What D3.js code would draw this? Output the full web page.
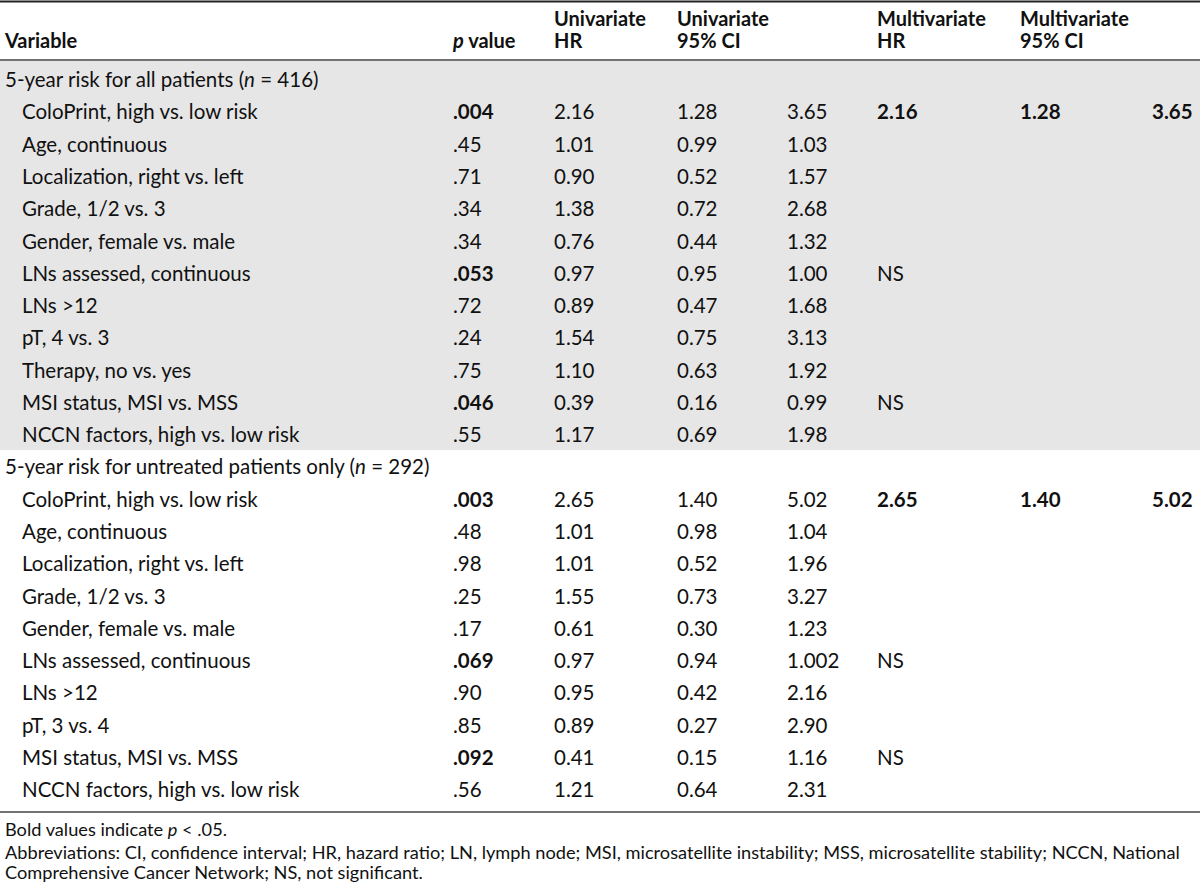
<!DOCTYPE html>
<html><head><meta charset="utf-8">
<script src="https://cdn.jsdelivr.net/npm/d3@7"></script>
<style>
body{margin:0;background:#fff;}
svg{display:block;}
text{font-family:Lato,"Open Sans",sans-serif;fill:#111;}
</style></head><body>
<svg id="c" width="1200" height="882"></svg>
<script>
const headers = [
  ["Variable"],
  ["p value"],
  ["Univariate","HR"],
  ["Univariate","95% CI"],
  ["Multivariate","HR"],
  ["Multivariate","95% CI"]
];
const groups = ["5-year risk for all patients (n = 416)", "5-year risk for untreated patients only (n = 292)"];
const groupN = ["416","292"];
const variables1 = ["ColoPrint, high vs. low risk","Age, continuous","Localization, right vs. left","Grade, 1/2 vs. 3","Gender, female vs. male","LNs assessed, continuous","LNs \u003E12","pT, 4 vs. 3","Therapy, no vs. yes","MSI status, MSI vs. MSS","NCCN factors, high vs. low risk"];
const pValues1 = [".004",".45",".71",".34",".34",".053",".72",".24",".75",".046",".55"];
const pBold1 = [true,false,false,false,false,true,false,false,false,true,false];
const uniHR1 = ["2.16","1.01","0.90","1.38","0.76","0.97","0.89","1.54","1.10","0.39","1.17"];
const uniLo1 = ["1.28","0.99","0.52","0.72","0.44","0.95","0.47","0.75","0.63","0.16","0.69"];
const uniHi1 = ["3.65","1.03","1.57","2.68","1.32","1.00","1.68","3.13","1.92","0.99","1.98"];
const multiHR1 = ["2.16","","","","","NS","","","","NS",""];
const multiLo1 = ["1.28","","","","","","","","","",""];
const multiHi1 = ["3.65","","","","","","","","","",""];

const variables2 = ["ColoPrint, high vs. low risk","Age, continuous","Localization, right vs. left","Grade, 1/2 vs. 3","Gender, female vs. male","LNs assessed, continuous","LNs \u003E12","pT, 3 vs. 4","MSI status, MSI vs. MSS","NCCN factors, high vs. low risk"];
const pValues2 = [".003",".48",".98",".25",".17",".069",".90",".85",".092",".56"];
const pBold2 = [true,false,false,false,false,true,false,false,true,false];
const uniHR2 = ["2.65","1.01","1.01","1.55","0.61","0.97","0.95","0.89","0.41","1.21"];
const uniLo2 = ["1.40","0.98","0.52","0.73","0.30","0.94","0.42","0.27","0.15","0.64"];
const uniHi2 = ["5.02","1.04","1.96","3.27","1.23","1.002","2.16","2.90","1.16","2.31"];
const multiHR2 = ["2.65","","","","","NS","","","NS",""];
const multiLo2 = ["1.40","","","","","","","","",""];
const multiHi2 = ["5.02","","","","","","","","",""];

const footnotes = ["Bold values indicate p < .05.",
 "Abbreviations: CI, confidence interval; HR, hazard ratio; LN, lymph node; MSI, microsatellite instability; MSS, microsatellite stability; NCCN, National",
 "Comprehensive Cancer Network; NS, not significant."];

// build rows
const rows = [];
function addGroup(gi, vars, p, pb, uh, ul, uhi, mh, ml, mhi){
  rows.push({type:"group", gi});
  vars.forEach((v,i)=>rows.push({type:"row", gi, v, p:p[i], pb:pb[i], uh:uh[i], ul:ul[i], uhi:uhi[i], mh:mh[i], ml:ml[i], mhi:mhi[i]}));
}
addGroup(0, variables1, pValues1, pBold1, uniHR1, uniLo1, uniHi1, multiHR1, multiLo1, multiHi1);
addGroup(1, variables2, pValues2, pBold2, uniHR2, uniLo2, uniHi2, multiHR2, multiLo2, multiHi2);

const svg = d3.select("#c");
const W = 1200;
const FS = 20.5;
const y = d3.scaleBand().domain(d3.range(rows.length)).range([63.9, 806.1]).paddingInner(0).paddingOuter(0);
const colKeys = ["v","p","uh","ul","uhi","mh","ml","mhi"];
const x = d3.scaleOrdinal().domain(colKeys).range([22, 453, 554, 677, 787, 877, 1020, 1152]);

// gray band for group 0
const g0count = variables1.length + 1;
svg.append("rect").attr("x",0).attr("width",W)
  .attr("y", 61).attr("height", y(g0count) - 61 - 1)
  .attr("fill","#e6e6e6");

// lines
svg.append("line").attr("x1",0).attr("x2",W).attr("y1",1.5).attr("y2",1.5).attr("stroke","#222").attr("stroke-width",2);
svg.append("line").attr("x1",0).attr("x2",W).attr("y1",60).attr("y2",60).attr("stroke","#444").attr("stroke-width",1.5);
svg.append("line").attr("x1",0).attr("x2",W).attr("y1",812).attr("y2",812).attr("stroke","#444").attr("stroke-width",1.5);

// headers
const hx = [5, 453, 554, 677, 877, 1020];
const HFS = 20;
headers.forEach((h,i)=>{
  const t = svg.append("text").attr("x",hx[i]).attr("font-weight","bold").attr("font-size",HFS);
  if (h.length===1){
    const tt = t.attr("y",48);
    if (h[0]==="p value"){
      tt.append("tspan").attr("font-style","italic").text("p");
      tt.append("tspan").text(" value");
    } else tt.text(h[0]);
  } else {
    t.attr("y",26).text(h[0]);
    svg.append("text").attr("x",hx[i]).attr("y",48).attr("font-weight","bold").attr("font-size",HFS).text(h[1]);
  }
});

// rows
rows.forEach((r,i)=>{
  const cy = y(i) + y.bandwidth()/2;
  if (r.type==="group"){
    const t = svg.append("text").attr("x",5).attr("y",cy).attr("dy","0.35em").attr("font-size",FS);
    const label = groups[r.gi];
    const parts = label.split("(n = ");
    t.append("tspan").text(parts[0] + "(");
    t.append("tspan").attr("font-style","italic").text("n");
    t.append("tspan").text(" = " + groupN[r.gi] + ")");
  } else {
    colKeys.forEach(k=>{
      const val = r[k];
      if (!val) return;
      const bold = (k==="p" && r.pb) || ((k==="mh"||k==="ml"||k==="mhi") && val!=="NS");
      svg.append("text").attr("x",x(k)).attr("y",cy).attr("dy","0.35em")
        .attr("font-size",FS).attr("font-weight",bold?"bold":"normal").text(val);
    });
  }
});

// footnotes
const fy = [830, 853, 873];
footnotes.forEach((f,i)=>{
  const t = svg.append("text").attr("x",5).attr("y",fy[i]).attr("dy","0.33em").attr("font-size",18.2);
  if (i===0){
    t.append("tspan").text("Bold values indicate ");
    t.append("tspan").attr("font-style","italic").text("p");
    t.append("tspan").text(" < .05.");
  } else t.text(f);
});
</script>
</body></html>
